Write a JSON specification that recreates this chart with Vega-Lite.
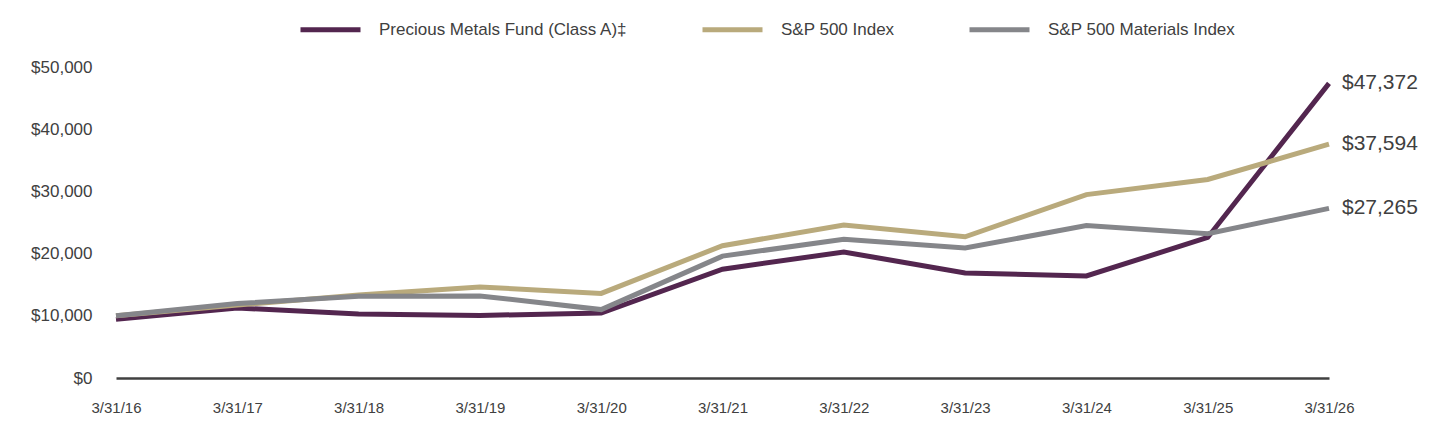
{
  "$schema": "https://vega.github.io/schema/vega-lite/v6.json",
  "width": 1213,
  "height": 311,
  "autosize": {"type": "none"},
  "padding": {"left": 116, "top": 67, "right": 111, "bottom": 66},
  "background": "white",
  "config": {
    "view": {"stroke": null},
    "font": "Liberation Sans"
  },
  "data": {
    "values": [
      {"date": "3/31/16", "series": "Precious Metals Fund (Class A)‡", "value": 9425},
      {"date": "3/31/17", "series": "Precious Metals Fund (Class A)‡", "value": 11250},
      {"date": "3/31/18", "series": "Precious Metals Fund (Class A)‡", "value": 10300},
      {"date": "3/31/19", "series": "Precious Metals Fund (Class A)‡", "value": 10050},
      {"date": "3/31/20", "series": "Precious Metals Fund (Class A)‡", "value": 10450},
      {"date": "3/31/21", "series": "Precious Metals Fund (Class A)‡", "value": 17500},
      {"date": "3/31/22", "series": "Precious Metals Fund (Class A)‡", "value": 20260},
      {"date": "3/31/23", "series": "Precious Metals Fund (Class A)‡", "value": 16900},
      {"date": "3/31/24", "series": "Precious Metals Fund (Class A)‡", "value": 16400},
      {"date": "3/31/25", "series": "Precious Metals Fund (Class A)‡", "value": 22600},
      {"date": "3/31/26", "series": "Precious Metals Fund (Class A)‡", "value": 47372},
      {"date": "3/31/16", "series": "S&P 500 Index", "value": 10000},
      {"date": "3/31/17", "series": "S&P 500 Index", "value": 11717},
      {"date": "3/31/18", "series": "S&P 500 Index", "value": 13356},
      {"date": "3/31/19", "series": "S&P 500 Index", "value": 14625},
      {"date": "3/31/20", "series": "S&P 500 Index", "value": 13604},
      {"date": "3/31/21", "series": "S&P 500 Index", "value": 21270},
      {"date": "3/31/22", "series": "S&P 500 Index", "value": 24598},
      {"date": "3/31/23", "series": "S&P 500 Index", "value": 22697},
      {"date": "3/31/24", "series": "S&P 500 Index", "value": 29479},
      {"date": "3/31/25", "series": "S&P 500 Index", "value": 31911},
      {"date": "3/31/26", "series": "S&P 500 Index", "value": 37594},
      {"date": "3/31/16", "series": "S&P 500 Materials Index", "value": 10000},
      {"date": "3/31/17", "series": "S&P 500 Materials Index", "value": 11970},
      {"date": "3/31/18", "series": "S&P 500 Materials Index", "value": 13150},
      {"date": "3/31/19", "series": "S&P 500 Materials Index", "value": 13200},
      {"date": "3/31/20", "series": "S&P 500 Materials Index", "value": 11000},
      {"date": "3/31/21", "series": "S&P 500 Materials Index", "value": 19600},
      {"date": "3/31/22", "series": "S&P 500 Materials Index", "value": 22300},
      {"date": "3/31/23", "series": "S&P 500 Materials Index", "value": 20900},
      {"date": "3/31/24", "series": "S&P 500 Materials Index", "value": 24500},
      {"date": "3/31/25", "series": "S&P 500 Materials Index", "value": 23200},
      {"date": "3/31/26", "series": "S&P 500 Materials Index", "value": 27265}
    ]
  },
  "encoding": {
    "x": {
      "field": "date",
      "type": "ordinal",
      "sort": null,
      "scale": {"type": "point", "padding": 0},
      "axis": {
        "title": null,
        "labelAngle": 0,
        "labelFontSize": 15,
        "labelColor": "#404040",
        "labelPadding": 22,
        "ticks": false,
        "domainColor": "#404040",
        "domainWidth": 2.5,
        "grid": false
      }
    },
    "y": {
      "field": "value",
      "type": "quantitative",
      "scale": {"domain": [0, 50000], "nice": false},
      "axis": {
        "title": null,
        "values": [0, 10000, 20000, 30000, 40000, 50000],
        "format": "$,.0f",
        "labelFontSize": 17,
        "labelColor": "#404040",
        "labelPadding": 24,
        "ticks": false,
        "domain": false,
        "grid": false
      }
    },
    "color": {
      "field": "series",
      "type": "nominal",
      "sort": ["Precious Metals Fund (Class A)‡", "S&P 500 Index", "S&P 500 Materials Index"],
      "scale": {
        "domain": ["Precious Metals Fund (Class A)‡", "S&P 500 Index", "S&P 500 Materials Index"],
        "range": ["#53264f", "#b9aa7c", "#85868a"]
      },
      "legend": {
        "title": null,
        "orient": "none",
        "direction": "horizontal",
        "legendX": 182,
        "legendY": -70,
        "symbolType": "stroke",
        "symbolSize": 3600,
        "symbolStrokeWidth": 5,
        "labelFontSize": 17,
        "labelColor": "#404040",
        "labelOffset": 16,
        "columnPadding": 64,
        "labelLimit": 400
      }
    }
  },
  "layer": [
    {
      "mark": {"type": "line", "strokeWidth": 5, "strokeCap": "butt", "strokeJoin": "miter"},
      "encoding": {
        "order": {"field": "series"}
      }
    },
    {
      "transform": [{"filter": "datum.date === '3/31/26'"}],
      "mark": {"type": "text", "align": "left", "baseline": "middle", "dx": 13, "fontSize": 21, "color": "#404040"},
      "encoding": {
        "text": {"field": "value", "type": "quantitative", "format": "$,.0f"},
        "color": {"value": "#404040"}
      }
    }
  ]
}
